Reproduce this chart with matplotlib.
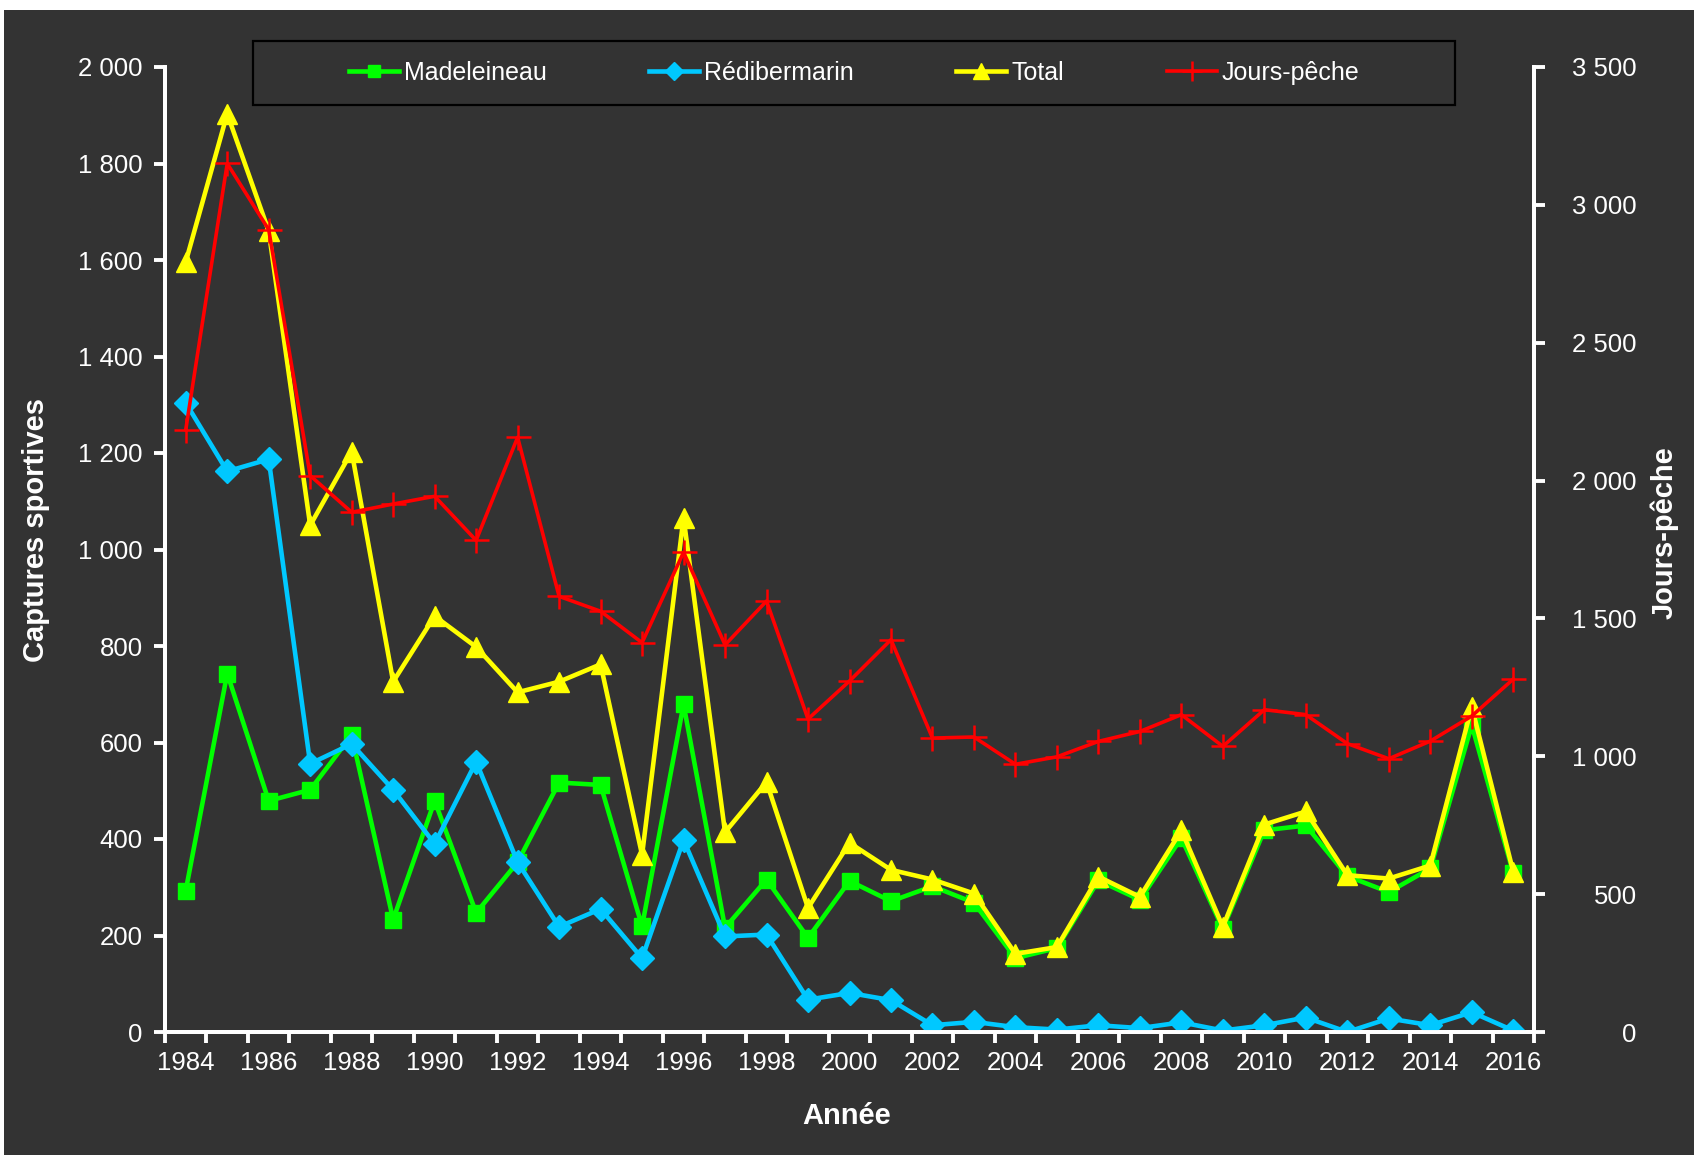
import numpy as np
import matplotlib
matplotlib.use("Agg")
import matplotlib.pyplot as plt
from matplotlib.patches import Rectangle
from matplotlib.ticker import FuncFormatter

plt.rcParams['font.family'] = ['Liberation Sans', 'DejaVu Sans']

years = list(range(1984, 2017))

madeleineau = [293, 743, 479, 502, 615, 233, 479, 247, 352, 517, 512, 219, 679,
               216, 316, 195, 313, 271, 302, 268, 153, 174, 314, 274, 402, 214,
               418, 428, 323, 290, 339, 636, 329]
redibermarin = [1304, 1162, 1187, 556, 597, 502, 390, 560, 352, 218, 255, 153, 398,
                198, 202, 67, 81, 66, 14, 21, 10, 5, 14, 8, 20, 3,
                14, 30, 0, 28, 14, 41, 3]
total = [1596, 1903, 1660, 1050, 1203, 726, 862, 798, 704, 726, 762, 367, 1066,
         414, 518, 257, 392, 336, 316, 287, 162, 176, 322, 280, 418, 218,
         430, 457, 325, 318, 345, 674, 332]
jours_peche = [2184, 3150, 2910, 2018, 1885, 1915, 1943, 1783, 2157, 1580, 1526, 1412, 1740,
               1404, 1563, 1135, 1273, 1423, 1066, 1070, 971, 998, 1054, 1090, 1151, 1036,
               1169, 1151, 1046, 991, 1055, 1146, 1280]

BG = '#333333'
W, H = 1694, 1155


def fmt_space(v, pos):
    return f"{int(round(v)):,}".replace(",", " ")


fig = plt.figure(figsize=(W / 100, H / 100), dpi=100, facecolor=BG)
# thin white margins at top and left
fig.patches.append(Rectangle((0, 1 - 10 / H), 1, 10 / H, transform=fig.transFigure,
                             facecolor='white', edgecolor='none'))
fig.patches.append(Rectangle((0, 0), 4 / W, 1, transform=fig.transFigure,
                             facecolor='white', edgecolor='none'))

ax = fig.add_axes([165 / W, 1 - 1032 / H, (1534 - 165) / W, (1032 - 67) / H])
ax.set_facecolor('none')
ax2 = ax.twinx()

l1, = ax.plot(years, madeleineau, color='#00FF00', lw=3.3, marker='s', ms=11,
              label='Madeleineau', zorder=3)
l2, = ax.plot(years, redibermarin, color='#00C8FF', lw=3.3, marker='D', ms=12,
              label='Rédibermarin', zorder=4)
l3, = ax.plot(years, total, color='#FFFF00', lw=3.3, marker='^', ms=14,
              label='Total', zorder=5)
l4, = ax2.plot(years, jours_peche, color='#FF0000', lw=2.6, marker='+', ms=18,
               mew=1.8, label='Jours-pêche')

ax.set_xlim(1983.5, 2016.5)
ax.set_ylim(0, 2000)
ax2.set_ylim(0, 3500)

for a in (ax, ax2):
    for s in a.spines.values():
        s.set_color('white')
        s.set_linewidth(2.8)
    a.spines['top'].set_visible(False)

ax.set_xticks(years[::2])
ax.set_xticks(np.arange(1983.5, 2017, 1), minor=True)
ax.tick_params(axis='x', which='major', length=0, pad=14, labelsize=18.5, colors='white')
ax.tick_params(axis='x', which='minor', length=8, width=2.8, color='white')

ax.set_yticks(np.arange(0, 2001, 200))
ax.yaxis.set_major_formatter(FuncFormatter(fmt_space))
ax.tick_params(axis='y', length=8, width=2.8, pad=8, labelsize=18.5, colors='white')

ax2.set_yticks(np.arange(0, 3501, 500))
ax2.yaxis.set_major_formatter(FuncFormatter(fmt_space))
ax2.tick_params(axis='y', length=8, width=2.8, pad=66, labelsize=18.5, colors='white')
for t in ax2.get_yticklabels():
    t.set_horizontalalignment('right')

fig.text(36 / W, 1 - 530 / H, 'Captures sportives', rotation=90, ha='center', va='center',
         fontsize=21, fontweight='bold', color='white')
fig.text(1664 / W, 1 - 533 / H, 'Jours-pêche', rotation=90, ha='center', va='center',
         fontsize=21, fontweight='bold', color='white')
fig.text(847 / W, 1 - 1116 / H, 'Année', ha='center', va='center',
         fontsize=21, fontweight='bold', color='white')

# legend box drawn separately so padding matches
box = Rectangle((253 / W, 1 - 105 / H), (1455 - 253) / W, 64 / H,
                transform=fig.transFigure, facecolor=BG, edgecolor='black',
                linewidth=1.6, clip_on=False, zorder=8)
ax2.add_patch(box)
leg = ax2.legend(handles=[l1, l2, l3, l4], loc='center', ncol=4,
                 bbox_to_anchor=(854 / W, 1 - 73 / H), bbox_transform=fig.transFigure,
                 frameon=False, fontsize=18, labelcolor='white',
                 handlelength=2.0, handletextpad=0.2, columnspacing=4.1,
                 markerscale=0.8)
leg.set_zorder(9)

fig.savefig('out.png', dpi=100, facecolor=fig.get_facecolor())
